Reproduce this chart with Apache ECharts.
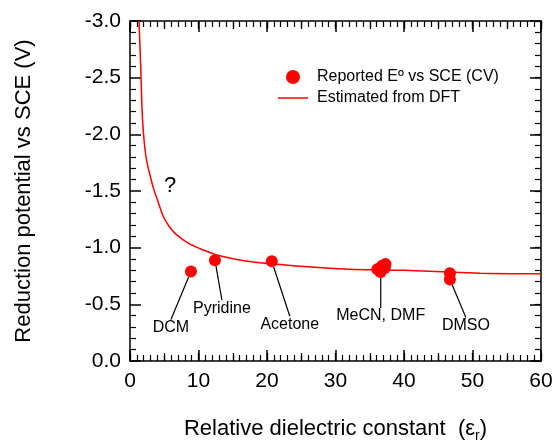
<!DOCTYPE html>
<html>
<head>
<meta charset="utf-8">
<script src="https://cdn.jsdelivr.net/npm/echarts@6/dist/echarts.min.js"></script>
<style>
  html, body { margin: 0; padding: 0; background: #fff; }
  #wrap { position: relative; width: 555px; height: 442px; }
  #frame, #plot { position: absolute; left: 0; top: 0; width: 555px; height: 442px; }
</style>
</head>
<body>
<div id="wrap">
  <div id="frame"></div>
  <div id="plot"></div>
</div>
<script>
// Reported reduction potentials (CV, V vs SCE) against solvent dielectric constant
const reportedEps = [8.9, 12.4, 20.7, 36.1, 36.5, 36.8, 37.3, 37.2, 36.6, 46.7, 46.7];
const reportedE   = [-0.79, -0.89, -0.88, -0.81, -0.79, -0.84, -0.855, -0.82, -0.785, -0.775, -0.72];

// DFT-estimated potential as a function of dielectric constant
const dftEps = [1.31, 1.56, 1.70, 1.85, 2.05, 2.29, 2.6, 2.92, 3.4, 3.9, 4.9, 5.8, 6.7, 8.5, 10.7, 12.65, 17.5, 24.3, 32.1, 40, 51.1, 60];
const dftE   = [-3.0, -2.61, -2.32, -2.11, -1.95, -1.82, -1.72, -1.64, -1.53, -1.44, -1.27, -1.18, -1.12, -1.04, -0.98, -0.936, -0.877, -0.839, -0.81, -0.80, -0.775, -0.77];

// Solvent names and the reported point each one labels
const solventNames = ['DCM', 'Pyridine', 'Acetone', 'MeCN, DMF', 'DMSO'];
const solventPoint = [0, 1, 2, 8, 10];

// Axis ticks
const xTicks = [0, 10, 20, 30, 40, 50, 60];
const yTicks = [-3.0, -2.5, -2.0, -1.5, -1.0, -0.5, 0.0];

const FONT = 'Liberation Sans';
const RED = '#ff0000';
const CLEAR = 'rgba(0,0,0,0)';
// Pixel offsets of each solvent label from its point
const labelOffsets = [[-20, 56], [7, 48], [18, 63], [0, 44], [16, 46]];

const gridBox = { left: 130, right: 14, top: 21, bottom: 81, outerBoundsMode: 'none' };
const xRange = { min: xTicks[0], max: xTicks[xTicks.length - 1] };
const yRange = { min: yTicks[0], max: yTicks[yTicks.length - 1], inverse: true };

// ---------- Frame: box axes, ticks, tick labels and axis titles ----------
const bottomAxis = Object.assign({
  type: 'value', position: 'bottom', interval: xTicks[1] - xTicks[0],
  axisLine: { show: true, onZero: false, lineStyle: { color: '#000', width: 1.5 } },
  axisTick: { show: true, inside: true, length: 11, lineStyle: { color: '#000', width: 1.5 } },
  minorTick: { show: true, splitNumber: 10, length: 6, lineStyle: { color: '#000', width: 1.2 } },
  splitLine: { show: false },
  axisLabel: { show: true, margin: 10, color: '#000', fontSize: 21, fontFamily: FONT },
  name: '{a|Relative dielectric constant  (ε}{s|r}{a|)}',
  nameLocation: 'middle', nameGap: 54,
  nameTextStyle: {
    rich: {
      a: { fontSize: 22, fontFamily: FONT, color: '#000' },
      s: { fontSize: 14, fontFamily: FONT, color: '#000', verticalAlign: 'bottom', padding: [14, 0, 0, 0] }
    }
  }
}, xRange);

const leftAxis = Object.assign({
  type: 'value', position: 'left', interval: yTicks[1] - yTicks[0],
  axisLine: { show: true, onZero: false, lineStyle: { color: '#000', width: 1.5 } },
  axisTick: { show: true, inside: true, length: 11, lineStyle: { color: '#000', width: 1.5 } },
  minorTick: { show: true, splitNumber: 5, length: 6, lineStyle: { color: '#000', width: 1.2 } },
  splitLine: { show: false },
  axisLabel: { show: true, margin: 9, color: '#000', fontSize: 21, fontFamily: FONT, formatter: v => v.toFixed(1) },
  name: 'Reduction potential vs SCE (V)',
  nameLocation: 'middle', nameGap: 95,
  nameTextStyle: { fontSize: 22, fontFamily: FONT, color: '#000' }
}, yRange);

// Plain border line for the top and right sides
function borderAxis(type, position, range) {
  return Object.assign({
    type: 'value', position,
    axisLine: { show: true, onZero: false, lineStyle: { color: '#000', width: 1.5 } },
    axisTick: { show: false }, minorTick: { show: false },
    splitLine: { show: false }, axisLabel: { show: false }
  }, range);
}

// One row of tick marks: an axis shifted into the plot by its tick length,
// with ticks pointing back out to the border
function tickRow(position, range, interval, length, width) {
  return Object.assign({
    type: 'value', position, interval, offset: -length,
    axisLine: { show: true, onZero: false, lineStyle: { color: CLEAR, width: 1 } },
    axisTick: { show: true, inside: false, length, lineStyle: { color: '#000', width } },
    minorTick: { show: false },
    splitLine: { show: false }, axisLabel: { show: false }
  }, range);
}

const frameChart = echarts.init(document.getElementById('frame'));
frameChart.setOption({
  animation: false,
  grid: Object.assign({}, gridBox),
  xAxis: [
    bottomAxis,
    borderAxis('x', 'top', xRange),
    tickRow('bottom', xRange, 5, 8, 1.3),
    tickRow('top', xRange, 10, 11, 1.5),
    tickRow('top', xRange, 5, 8, 1.3),
    tickRow('top', xRange, 1, 6, 1.2)
  ],
  yAxis: [
    leftAxis,
    borderAxis('y', 'right', yRange),
    tickRow('right', yRange, 0.5, 11, 1.5),
    tickRow('right', yRange, 0.1, 6, 1.2)
  ],
  series: []
});

// ---------- Plot: data, legend and annotations on the same scales ----------
const labelFor = {};
solventPoint.forEach((p, k) => { labelFor[p] = k; });

const scatterData = reportedEps.map((x, i) => {
  const item = { value: [x, reportedE[i]] };
  if (labelFor[i] !== undefined) {
    item.label = { show: true, formatter: solventNames[labelFor[i]] };
    item.labelLine = { show: true };
  }
  return item;
});
const lineData = dftEps.map((x, i) => [x, dftE[i]]);

const plotChart = echarts.init(document.getElementById('plot'));
plotChart.setOption({
  animation: false,
  backgroundColor: 'transparent',
  grid: Object.assign({}, gridBox),
  xAxis: Object.assign({ type: 'value', show: false }, xRange),
  yAxis: Object.assign({ type: 'value', show: false }, yRange),
  legend: {
    left: 278, top: 69, orient: 'vertical', padding: 0,
    itemWidth: 30, itemHeight: 14, itemGap: 5,
    textStyle: { fontSize: 16, fontFamily: FONT, color: '#000', padding: [0, 0, 0, 4] },
    data: [
      { name: 'Reported Eº vs SCE (CV)', icon: 'circle' },
      { name: 'Estimated from DFT', icon: 'path://M0,0L30,0L30,1.5L0,1.5Z' }
    ]
  },
  graphic: [{
    type: 'text', left: 164, top: 175,
    style: { text: '?', fontSize: 22, fontFamily: FONT, fill: '#000' }
  }],
  series: [
    {
      name: 'Estimated from DFT', type: 'line',
      data: lineData, smooth: 0.25, symbol: 'none', showSymbol: false,
      lineStyle: { color: RED, width: 1.5 }, itemStyle: { color: RED },
      clip: true, z: 2
    },
    {
      name: 'Reported Eº vs SCE (CV)', type: 'scatter',
      data: scatterData, symbol: 'circle', symbolSize: 12,
      itemStyle: { color: RED, opacity: 1 },
      label: { show: false, position: 'inside', color: '#000', fontSize: 16, fontFamily: FONT },
      labelLine: { show: true, lineStyle: { color: '#000', width: 1.2 } },
      labelLayout: p => {
        const k = labelFor[p.dataIndex];
        if (k === undefined) return {};
        return { dx: labelOffsets[k][0], dy: labelOffsets[k][1] };
      },
      emphasis: { disabled: true },
      z: 3
    }
  ]
});
</script>
</body>
</html>
